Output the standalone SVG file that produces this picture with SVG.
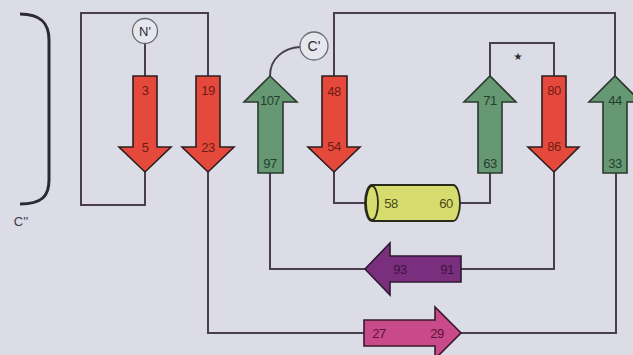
<svg xmlns="http://www.w3.org/2000/svg" width="633" height="355" viewBox="0 0 633 355">
<style>
.ln{fill:none;stroke:#4a3e4e;stroke-width:2;stroke-linejoin:miter}
.red{fill:#e5493c;stroke:#2c1e1e;stroke-width:1.6;stroke-linejoin:miter}
.grn{fill:#659873;stroke:#2a3a2e;stroke-width:1.6}
.pur{fill:#7a2f7e;stroke:#2e1a30;stroke-width:1.6}
.pnk{fill:#c94a8a;stroke:#3a1a2a;stroke-width:1.6}
.hel{fill:#d6dc6e;stroke:#2a2a1a;stroke-width:1.8}
.t{font-family:"Liberation Sans",Arial,sans-serif;font-size:13px;text-anchor:middle;letter-spacing:-0.6px}
.tr{fill:#6e1c14}
.tg{fill:#24402c}
.tp{fill:#3c1440}
.tk{fill:#5c1434}
.ty{fill:#4a4a18}
.term{fill:#e6e6ee;stroke:#6a6a72;stroke-width:1.3}
</style>
<rect width="633" height="355" fill="#dcdce7"/>
<g id="connectors">
<path class="ln" d="M145,43 V76"/>
<path class="ln" d="M145,172 V205 H81 V13 H208 V76"/>
<path class="ln" d="M208,172 V333 H364"/>
<path class="ln" d="M461,333 H616 V173"/>
<path class="ln" d="M615,76 V13 H334 V76"/>
<path class="ln" d="M334,172 V203 H366"/>
<path class="ln" d="M460,203 H490 V173"/>
<path class="ln" d="M490,76 V43 H554 V76"/>
<path class="ln" d="M554,172 V269 H461"/>
<path class="ln" d="M365,269 H270 V173"/>
<path class="ln" d="M270,76 C270,58 284,48 300,47"/>
</g>
<g id="bracket">
<path d="M20,14 C42,14 49,24 49,40 V180 C49,196 42,204 20,204" fill="none" stroke="#2a2a30" stroke-width="3"/>
<text x="21" y="226" font-family="Liberation Sans,Arial,sans-serif" font-size="13" fill="#3a3a44" text-anchor="middle">C''</text>
</g>
<g id="nterm">
<circle class="term" cx="145" cy="31" r="12.5"/>
<text x="145" y="36" font-family="Liberation Sans,Arial,sans-serif" font-size="13" fill="#2a2a30" text-anchor="middle">N'</text>
</g>
<g id="cterm">
<circle class="term" cx="314" cy="46" r="14"/>
<text x="314" y="51" font-family="Liberation Sans,Arial,sans-serif" font-size="14" fill="#2a2a30" text-anchor="middle">C'</text>
</g>
<g id="s3_5">
<polygon class="red" points="133,76 157,76 157,147 171,147 145,172 119,147 133,147"/>
<text class="t tr" x="145" y="95">3</text>
<text class="t tr" x="145" y="152">5</text>
</g>
<g id="s19_23">
<polygon class="red" points="196,76 220,76 220,147 234,147 208,172 182,147 196,147"/>
<text class="t tr" x="208" y="95">19</text>
<text class="t tr" x="208" y="152">23</text>
</g>
<g id="s97_107">
<polygon class="grn" points="258,173 283,173 283,102 297,102 270,76 244,102 258,102"/>
<text class="t tg" x="270" y="105">107</text>
<text class="t tg" x="270" y="168">97</text>
</g>
<g id="s48_54">
<polygon class="red" points="322,76 347,76 347,147 360,147 334,172 308,147 322,147"/>
<text class="t tr" x="334" y="96">48</text>
<text class="t tr" x="334" y="151">54</text>
</g>
<g id="h58_60">
<path class="hel" d="M372,185 H453 A7,18 0 0 1 453,221 H372 A7,18 0 0 1 372,185 Z"/>
<ellipse class="hel" cx="372" cy="203" rx="6" ry="17"/>
<text class="t ty" x="391" y="208">58</text>
<text class="t ty" x="446" y="208">60</text>
</g>
<g id="s63_71">
<polygon class="grn" points="478,173 502,173 502,102 516,102 490,76 464,102 478,102"/>
<text class="t tg" x="490" y="105">71</text>
<text class="t tg" x="490" y="168">63</text>
</g>
<g id="s80_86">
<polygon class="red" points="542,76 566,76 566,147 579,147 554,172 528,147 542,147"/>
<text class="t tr" x="554" y="95">80</text>
<text class="t tr" x="554" y="151">86</text>
<text x="518" y="60" font-family="DejaVu Sans,sans-serif" font-size="10" fill="#2a2a30" text-anchor="middle">★</text>
</g>
<g id="s33_44">
<polygon class="grn" points="603,173 627,173 627,102 641,102 615,76 589,102 603,102"/>
<text class="t tg" x="615" y="105">44</text>
<text class="t tg" x="615" y="168">33</text>
</g>
<g id="s91_93">
<polygon class="pur" points="461,256 461,282 390,282 390,295 365,269 390,243 390,256"/>
<text class="t tp" x="400" y="274">93</text>
<text class="t tp" x="447" y="274">91</text>
</g>
<g id="s27_29">
<polygon class="pnk" points="364,320 435,320 435,307 461,333 435,359 435,346 364,346"/>
<text class="t tk" x="379" y="338">27</text>
<text class="t tk" x="437" y="338">29</text>
</g>
</svg>
